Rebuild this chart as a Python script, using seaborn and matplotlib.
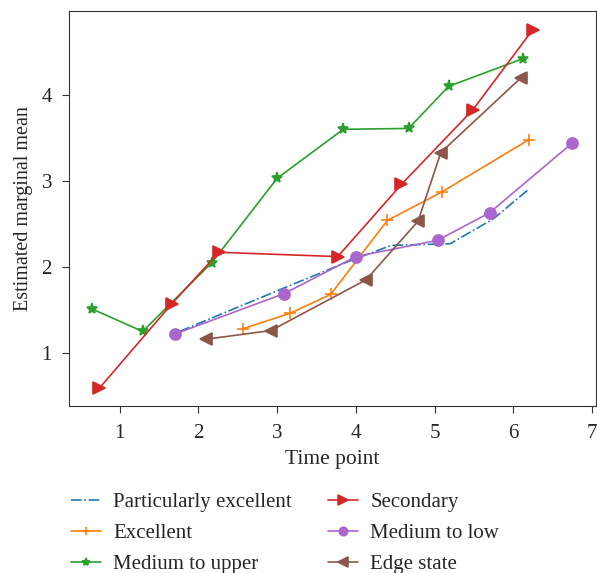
import numpy as np
import pandas as pd
import matplotlib
matplotlib.use('Agg')
import matplotlib.pyplot as plt
import seaborn as sns

# Werte
t_part_exc = [1.76, 3.10, 3.95, 4.45, 5.20, 5.75, 6.18]
v_part_exc = [1.25, 1.76, 2.08, 2.25, 2.27, 2.56, 2.89]

t_excellent = [2.56, 3.16, 3.68, 4.40, 5.09, 6.20]
v_excellent = [1.28, 1.46, 1.68, 2.54, 2.87, 3.48]

t_med_upper = [0.65, 1.29, 2.17, 3.00, 3.84, 4.67, 5.18, 6.12]
v_med_upper = [1.51, 1.25, 2.05, 3.03, 3.60, 3.61, 4.10, 4.42]

t_secondary = [0.74, 1.66, 2.26, 3.77, 4.58, 5.49, 6.25]
v_secondary = [0.59, 1.57, 2.17, 2.12, 2.96, 3.83, 4.76]

t_med_low = [1.70, 3.09, 4.00, 5.04, 5.70, 6.75]
v_med_low = [1.22, 1.69, 2.12, 2.31, 2.63, 3.44]

t_edge = [2.10, 2.92, 4.13, 4.79, 5.08, 6.10]
v_edge = [1.16, 1.26, 1.85, 2.53, 3.33, 4.20]

series = [
    ('Particularly excellent', t_part_exc, v_part_exc, '#1f77b4', None, '-.', 0),
    ('Excellent', t_excellent, v_excellent, '#ff7f0e', '+', '-', 8),
    ('Medium to upper', t_med_upper, v_med_upper, '#2ca02c', '*', '-', 8),
    ('Secondary', t_secondary, v_secondary, '#d62728', '>', '-', 9),
    ('Medium to low', t_med_low, v_med_low, '#aa66cc', 'o', '-', 8),
    ('Edge state', t_edge, v_edge, '#8c564b', '<', '-', 9),
]

sns.set_style('ticks')
plt.rcParams['font.family'] = ['Liberation Serif', 'DejaVu Serif']

fig = plt.figure(figsize=(5.97, 5.73), dpi=100)
ax = fig.add_axes([0.115, 0.291, 0.883, 0.689])

for name, t, v, col, mk, ls, ms in series:
    df = pd.DataFrame({'t': t, 'v': v})
    sns.lineplot(data=df, x='t', y='v', ax=ax, color=col, marker=mk,
                 linestyle=ls, markersize=ms, linewidth=1.2, label=name,
                 sort=False, markeredgewidth=1.2, markeredgecolor=col)

ax.set_xlim(0.35, 7.05)
ax.set_ylim(0.38, 4.97)
ax.set_xticks(range(1, 8))
ax.set_yticks(range(1, 5))
ax.tick_params(labelsize=15, length=5, color='#333333')
ax.tick_params(axis='x', pad=8)
ax.tick_params(axis='y', pad=7)
for sp in ax.spines.values():
    sp.set_color('#333333')
ax.set_xlabel('Time point', fontsize=15.5, labelpad=5)
ax.set_ylabel('Estimated marginal mean', fontsize=14.5, labelpad=6)

ax.legend(loc='upper left', bbox_to_anchor=(-0.012, -0.198), ncol=2,
          frameon=False, fontsize=15, handlelength=1.45, markerscale=0.75,
          columnspacing=1.7, labelspacing=0.55, handletextpad=0.6,
          borderaxespad=0)

fig.savefig('out.png', dpi=100)
